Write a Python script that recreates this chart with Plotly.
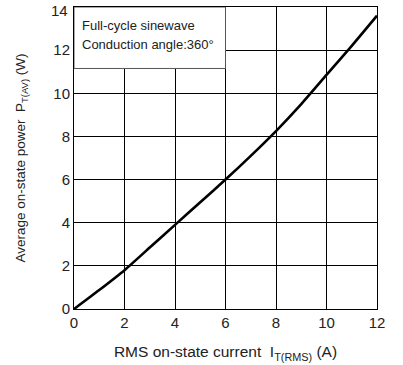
import plotly.graph_objects as go

# RMS on-state current (A) and average on-state power (W)
current_a = [0, 1, 2, 3, 4, 5, 6, 7, 8, 9, 10, 11, 12]
power_w = [0, 0.88, 1.8, 2.85, 3.9, 4.95, 6.0, 7.1, 8.25, 9.5, 10.85, 12.2, 13.6]

x_ticks = [0, 2, 4, 6, 8, 10, 12]
y_ticks = [0, 2, 4, 6, 8, 10, 12, 14]

note_lines = ["Full-cycle sinewave", "Conduction angle:360°"]

FONT = "Liberation Sans, Arial, Helvetica, sans-serif"
NBSP = "\u00a0"
TICK_FONT = dict(size=15, color="#222", family=FONT)

fig = go.Figure()
fig.add_trace(go.Scatter(
    x=current_a, y=power_w, mode="lines",
    line=dict(color="black", width=2.6, shape="spline", smoothing=0.6),
    hoverinfo="skip", showlegend=False,
))

axis_common = dict(
    showgrid=True, gridcolor="black", gridwidth=1,
    showline=True, linecolor="black", linewidth=1, mirror=True,
    zeroline=False, ticks="", ticklabeloverflow="allow", automargin=False,
    tickfont=TICK_FONT,
)

fig.update_xaxes(
    range=[0, 12], tickvals=x_ticks, ticktext=[str(v) for v in x_ticks],
    title=dict(text=f"RMS on-state current{NBSP}{NBSP}I<sub>T(RMS)</sub> (A)",
               font=dict(size=15.5, color="#222", family=FONT), standoff=16),
    **axis_common,
)

# the topmost y label sits a little lower so it stays inside the page
y_top = y_ticks[-1]
fig.update_yaxes(
    range=[0, 14], tickvals=y_ticks,
    ticktext=[str(v) if v != y_top else "" for v in y_ticks],
    title=dict(text=f"Average on-state power{NBSP}{NBSP}P<sub>T(AV)</sub> (W)",
               font=dict(size=13.5, color="#222", family=FONT), standoff=24),
    **axis_common,
)
fig.add_annotation(
    x=0, y=y_top, xref="paper", yref="y", text=str(y_top),
    showarrow=False, xanchor="right", yanchor="middle",
    xshift=-4, yshift=-3, font=TICK_FONT,
)

# Condition note box in the upper-left corner of the plot
fig.add_shape(
    type="rect", xref="x", yref="y", x0=0, x1=6, y0=11.15, y1=14,
    fillcolor="white", line=dict(color="#555", width=1), layer="above",
)
for i, line in enumerate(note_lines):
    fig.add_annotation(
        x=0.22, y=13.12 - i * 0.88, xref="x", yref="y", text=line,
        showarrow=False, xanchor="left", yanchor="middle",
        font=dict(size=13, color="#222", family=FONT),
    )

fig.update_layout(
    width=403, height=365,
    margin=dict(l=74, r=26, t=7, b=56),
    paper_bgcolor="white", plot_bgcolor="white",
    font=dict(family=FONT),
)

fig.write_html("out.html")
